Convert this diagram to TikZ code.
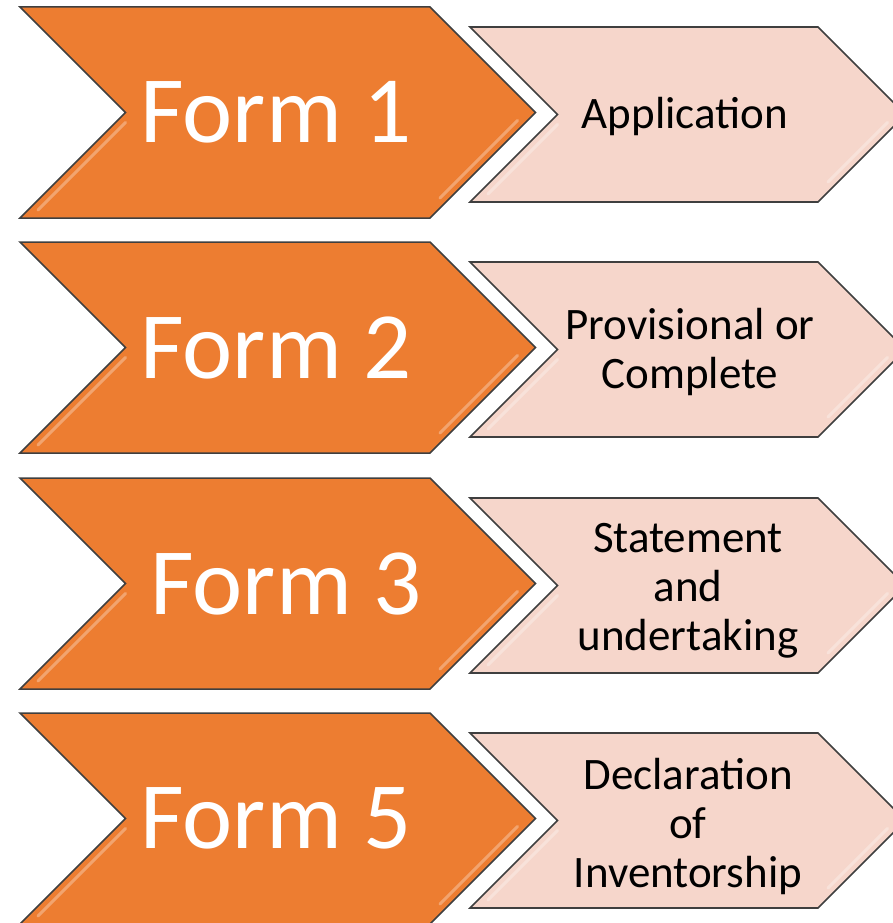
\documentclass[tikz,border=0pt]{standalone}
\usepackage{fontspec}
\setmainfont{Carlito}
\usetikzlibrary{calc}
\definecolor{formorange}{HTML}{ED7D31}
\definecolor{formpink}{HTML}{F6D6CB}
\definecolor{formedge}{HTML}{3F3F3F}
\def\chevron[#1](#2,#3)(#4:#5){\draw[#1] (#2,#3) -- ++(#4,0) -- ++(#5,#5) -- ++(-#5,#5) -- ++(-#4,0) -- ++(#5,-#5) -- cycle;}
\def\shine(#1,#2)(#3:#4){\draw[glint] ({#1+#4},{#2+#4+10}) -- ({#1+18},{#2+2*#4-8});
	\draw[glint] ({#1+#3+#4-18},{#2+#4+8}) -- ({#1+#3+10},{#2+2*#4-20});}
\tikzset{
	bigarrow/.style={fill=formorange, draw=formedge, line width=1.5pt},
	smallarrow/.style={fill=formpink, draw=formedge, line width=1.6pt},
	glint/.style={line width=3pt, line cap=round, color=white, opacity=0.3},
	formlabel/.style={text=white, font=\fontsize{95}{100}\selectfont, inner sep=0pt},
	desclabel/.style={text=black, font=\fontsize{45}{49}\selectfont, align=center, inner sep=0pt}
}

\begin{document}
\begin{tikzpicture}[x=1pt,y=-1pt]
		%%%%% START %%%%%
		\useasboundingbox (0,0) rectangle (893,923);
		\clip (0,0) rectangle (893,923);
		
		% row 1
		\chevron[bigarrow](20,7)(410:105.5)
		\shine(20,7)(410:105.5)
		\chevron[smallarrow](470,27)(348:87.5)
		\shine(470,27)(348:87.5)
		\node[formlabel] (form1) at (276,112.5) {Form 1};
		\node[desclabel] (desc1) at (685,117) {Application};
		
		% row 2
		\chevron[bigarrow](20,242)(410:105.5)
		\shine(20,242)(410:105.5)
		\chevron[smallarrow](470,262)(348:87.5)
		\shine(470,262)(348:87.5)
		\node[formlabel] (form2) at (276,347.5) {Form 2};
		\node[desclabel] (desc2) at (690,352) {Provisional or\\Complete};
		
		% row 3
		\chevron[bigarrow](20,478)(410:105.5)
		\shine(20,478)(410:105.5)
		\chevron[smallarrow](470,498)(348:87.5)
		\shine(470,498)(348:87.5)
		\node[formlabel] (form3) at (286,583.5) {Form 3};
		\node[desclabel] (desc3) at (688,591) {Statement\\and\\undertaking};
		
		% row 4
		\chevron[bigarrow](20,713)(410:105.5)
		\shine(20,713)(410:105.5)
		\chevron[smallarrow](470,733)(348:87.5)
		\shine(470,733)(348:87.5)
		\node[formlabel] (form5) at (276,818.5) {Form 5};
		\node[desclabel] (desc5) at (688,826) {Declaration\\of\\Inventorship};
		
		%%%%% END %%%%%
\end{tikzpicture}
\end{document}
